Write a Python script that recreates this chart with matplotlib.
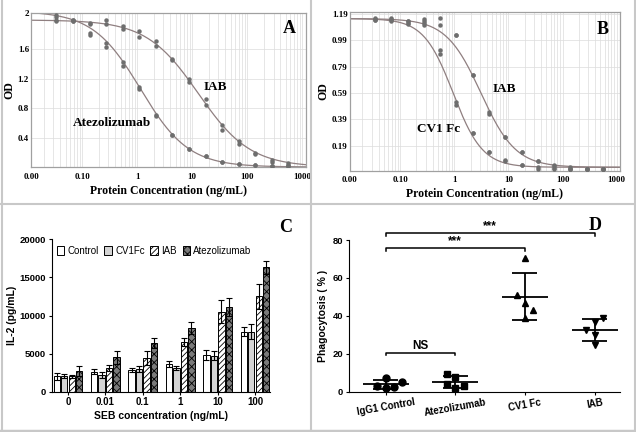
import numpy as np
import matplotlib.pyplot as plt
from matplotlib.lines import Line2D
from matplotlib.ticker import LogLocator, NullFormatter

plt.rcParams['hatch.linewidth'] = 0.6

SERIF = 'Liberation Serif'
SANS = 'Liberation Sans'

# ---------------- dados ----------------
# A / B: concentracoes (ng/mL), duplicatas
conc = [0.034, 0.068, 0.137, 0.273, 0.547, 1.09, 2.19, 4.37, 8.75, 17.5, 35, 70, 140, 280, 560]

a_atezo_r1 = [2.07, 2.00, 1.82, 1.69, 1.43, 1.09, 0.71, 0.44, 0.25, 0.15, 0.07, 0.04, 0.03, 0.01, 0.01]
a_atezo_r2 = [2.04, 1.99, 1.79, 1.63, 1.38, 1.06, 0.69, 0.43, 0.25, 0.15, 0.07, 0.04, 0.03, 0.01, 0.01]
a_iab_r1 = [2.00, 2.00, 1.96, 2.00, 1.92, 1.85, 1.71, 1.47, 1.20, 0.92, 0.57, 0.35, 0.19, 0.10, 0.05]
a_iab_r2 = [1.99, 1.98, 1.94, 1.95, 1.88, 1.77, 1.64, 1.45, 1.16, 0.85, 0.51, 0.31, 0.18, 0.07, 0.03]
# parametros 4PL (top, bottom, ec50, hill)
a_atezo_fit = (2.12, 0.0, 1.15, 1.0)
a_iab_fit = (2.0, 0.0, 12.9, 0.92)

b_cv1_r1 = [1.157, 1.157, 1.14, 1.14, 0.914, 0.523, 0.283, 0.144, 0.081, 0.043, 0.026, 0.02, 0.01, 0.01, 0.01]
b_cv1_r2 = [1.145, 1.14, 1.115, 1.11, 0.889, 0.497, 0.283, 0.144, 0.076, 0.043, 0.011, 0.01, 0.01, 0.01, 0.01]
b_iab_r1 = [1.155, 1.15, 1.14, 1.155, 1.16, 1.03, 0.725, 0.447, 0.258, 0.144, 0.077, 0.043, 0.03, 0.01, 0.01]
b_iab_r2 = [1.145, 1.145, 1.12, 1.12, 1.11, 1.03, 0.725, 0.43, 0.258, 0.144, 0.077, 0.036, 0.01, 0.01, 0.01]
b_cv1_fit = (1.155, 0.026, 0.95, 1.6)
b_iab_fit = (1.155, 0.026, 3.1, 1.35)

# C: IL-2
seb = ['0', '0.01', '0.1', '1', '10', '100']
il2_control = [2000, 2650, 2800, 3600, 4800, 7900]
il2_control_err = [400, 300, 250, 400, 650, 600]
il2_cv1fc = [2100, 2200, 3000, 3100, 4700, 7900]
il2_cv1fc_err = [250, 450, 400, 300, 600, 1000]
il2_iab = [2000, 3100, 4400, 6500, 10500, 12500]
il2_iab_err = [150, 400, 900, 500, 1500, 1600]
il2_atezo = [2700, 4500, 6400, 8400, 11100, 16300]
il2_atezo_err = [700, 800, 600, 800, 1200, 900]

# D: fagocitose (%)
grupos_d = ['IgG1 Control', 'Atezolizumab', 'CV1 Fc', 'IAB']
fago_igg1 = [7.4, 5.3, 3.0, 2.3, 1.8]
fago_atezo = [9.5, 7.8, 4.0, 3.0, 2.0]
fago_cv1 = [70.7, 51.0, 46.6, 43.1, 39.0]
fago_iab = [38.7, 36.9, 32.5, 29.9, 24.6]


def px(x):
    return x / 636


def py(y):
    return 1 - y / 432


def logistic(x, top, bottom, ec50, hill):
    return bottom + (top - bottom) / (1 + (x / ec50) ** hill)


fig = plt.figure(figsize=(6.36, 4.32), dpi=100)

# ---------- A e B: curvas dose-resposta ----------
xmin, xmax = 0.0117, 1150
xs = np.logspace(np.log10(xmin), np.log10(xmax), 400)
curva_cor = '#8f7f80'
ponto_cor = '#6e6e6e'


def painel_curva(ax, series, fits, ymax, yticks, ylabels):
    for r1, r2 in series:
        ax.plot(conc, r1, 'o', color=ponto_cor, ms=3.2, mec='none', zorder=3)
        ax.plot(conc, r2, 'o', color=ponto_cor, ms=3.2, mec='none', zorder=3)
    for p in fits:
        ax.plot(xs, logistic(xs, *p), color=curva_cor, lw=0.9, zorder=2)
    ax.set_xscale('log')
    ax.set_xlim(xmin, xmax)
    ax.set_ylim(0, ymax)
    ax.set_xticks([xmin, 0.1, 1, 10, 100, 1000])
    ax.set_xticklabels(['0.00', '0.10', '1', '10', '100', '1000'],
                       family=SERIF, fontweight='bold', fontsize=6.5)
    ax.xaxis.set_minor_locator(LogLocator(base=10, subs=np.arange(2, 10)))
    ax.xaxis.set_minor_formatter(NullFormatter())
    ax.set_yticks(yticks)
    ax.set_yticklabels(ylabels, family=SERIF, fontweight='bold', fontsize=6.5)
    ax.tick_params(which='both', length=0)
    ax.tick_params(axis='x', pad=4)
    ax.tick_params(axis='y', pad=1.5)
    ax.grid(which='both', axis='x', color='#dcdcdc', lw=0.5)
    ax.grid(which='major', axis='y', color='#dcdcdc', lw=0.5)
    ax.set_axisbelow(True)
    for s in ax.spines.values():
        s.set_color('#a0a0a0')
        s.set_linewidth(0.9)
    ax.set_xlabel('Protein Concentration (ng/mL)', family=SERIF, fontweight='bold',
                  fontsize=8.5, labelpad=3)
    ax.set_ylabel('OD', family=SERIF, fontweight='bold', fontsize=8.5, labelpad=2)


axA = fig.add_axes([px(31), py(167), px(274.6), 154 / 432])
painel_curva(axA, [(a_atezo_r1, a_atezo_r2), (a_iab_r1, a_iab_r2)],
             [a_atezo_fit, a_iab_fit], 2.095,
             [0.4, 0.8, 1.2, 1.6, 2.095], ['0.4', '0.8', '1.2', '1.6', '2'])

axB = fig.add_axes([px(349.7), py(170.7), px(270.3), 158.7 / 432])
painel_curva(axB, [(b_cv1_r1, b_cv1_r2), (b_iab_r1, b_iab_r2)],
             [b_cv1_fit, b_iab_fit], 1.205,
             [0.19, 0.39, 0.59, 0.79, 0.99, 1.19],
             ['0.19', '0.39', '0.59', '0.79', '0.99', '1.19'])

txt_serif = dict(family=SERIF, fontweight='bold', ha='center', va='center')
fig.text(px(289.3), py(28.3), 'A', fontsize=13, **txt_serif)
fig.text(px(215.3), py(87.3), 'IAB', fontsize=9.5, **txt_serif)
fig.text(px(111.7), py(123.3), 'Atezolizumab', fontsize=9.5, **txt_serif)
fig.text(px(602.3), py(29.3), 'B', fontsize=13, **txt_serif)
fig.text(px(504.7), py(89.3), 'IAB', fontsize=9.5, **txt_serif)
fig.text(px(438.7), py(129.3), 'CV1 Fc', fontsize=9.5, **txt_serif)

# ---------- C: barras IL-2 ----------
axC = fig.add_axes([px(51.7), py(391.7), px(218.3), 152.4 / 432])
x = np.arange(len(seb))
larg = 0.17
estilos = [
    ('Control', il2_control, il2_control_err, 'white', None),
    ('CV1Fc', il2_cv1fc, il2_cv1fc_err, '#d4d4d4', None),
    ('IAB', il2_iab, il2_iab_err, 'white', '//////'),
    ('Atezolizumab', il2_atezo, il2_atezo_err, '#7a7a7a', 'xxxx'),
]
for i, (nome, vals, err, cor, hatch) in enumerate(estilos):
    pos = x + (i - 1.5) * 0.2
    axC.bar(pos, vals, width=larg, color=cor, edgecolor='black', lw=0.7,
            hatch=hatch, label=nome, zorder=2)
    axC.errorbar(pos, vals, yerr=err, fmt='none', ecolor='black', elinewidth=0.8,
                 capsize=2, capthick=0.8, zorder=3)
axC.set_xlim(-0.436, 5.40)
axC.set_ylim(0, 20000)
axC.set_xticks(x)
axC.set_xticklabels(seb, family=SANS, fontweight='bold', fontsize=7)
axC.set_yticks([0, 5000, 10000, 15000, 20000])
axC.set_yticklabels(['0', '5000', '10000', '15000', '20000'], family=SANS,
                    fontweight='bold', fontsize=6.8)
axC.tick_params(length=2.5, width=0.8, pad=1.5)
axC.spines['top'].set_visible(False)
axC.spines['right'].set_visible(False)
axC.set_xlabel('SEB concentration (ng/mL)', family=SANS, fontweight='bold',
               fontsize=7.5, labelpad=3)
axC.set_ylabel('IL-2 (pg/mL)', family=SANS, fontweight='bold', fontsize=7.5, labelpad=2)
axC.legend(loc='upper left', bbox_to_anchor=(0.0, 0.99), ncol=4, frameon=False,
           prop={'family': SANS, 'size': 7}, handlelength=0.8, handleheight=1.0,
           handletextpad=0.3, columnspacing=0.6, borderaxespad=0.1)
fig.text(px(286), py(227.7), 'C', fontsize=13, **txt_serif)

# ---------- D: fagocitose ----------
axD = fig.add_axes([px(348.7), py(391.7), px(271), 151.7 / 432])
dados_d = [fago_igg1, fago_atezo, fago_cv1, fago_iab]
marcadores = ['o', 's', '^', 'v']
desloc = [[0, 0.24, -0.12, 0.12, 0], [-0.12, 0, -0.12, 0.12, 0],
          [0, -0.12, 0, 0.12, 0], [0.12, 0, -0.12, 0, 0]]
for i, vals in enumerate(dados_d):
    axD.plot(np.array(desloc[i]) + i, vals, marcadores[i], color='black', ms=5,
             clip_on=False, zorder=3)
    m = np.mean(vals)
    sd = np.std(vals, ddof=1)
    axD.hlines(m, i - 0.33, i + 0.33, color='black', lw=1.3)
    axD.vlines(i, m - sd, m + sd, color='black', lw=1.3)
    axD.hlines([m - sd, m + sd], i - 0.18, i + 0.18, color='black', lw=1.3)

sig = [(0, 3, 83.5, '***'), (0, 2, 75.6, '***'), (0, 1, 20.6, 'NS')]
for x0, x1, yv, rot in sig:
    axD.plot([x0, x0, x1, x1], [yv - 1.3, yv, yv, yv - 1.3], color='black', lw=1.1,
             clip_on=False)
    axD.text((x0 + x1) / 2, yv + 0.5, rot, family=SANS, fontweight='bold',
             fontsize=8.5, ha='center', va='bottom')

axD.set_xlim(-0.53, 3.36)
axD.set_ylim(0, 80)
axD.set_xticks(range(4))
axD.set_xticklabels(grupos_d, family=SANS, fontweight='bold', fontsize=7,
                    rotation=10, ha='center')
axD.set_yticks([0, 20, 40, 60, 80])
axD.set_yticklabels(['0', '20', '40', '60', '80'], family=SANS, fontweight='bold',
                    fontsize=6.8)
axD.tick_params(length=2.5, width=0.8, pad=1.5)
axD.spines['top'].set_visible(False)
axD.spines['right'].set_visible(False)
axD.set_ylabel('Phagocytosis ( % )', family=SANS, fontweight='bold', fontsize=7.5,
               labelpad=3)
fig.text(px(594.7), py(225), 'D', fontsize=13, **txt_serif)

# ---------- molduras ----------
borda = '#c8c8c8'
fig.add_artist(Line2D([px(311), px(311)], [0, 1], color=borda, lw=1.5))
fig.add_artist(Line2D([0, 1], [py(204), py(204)], color=borda, lw=1.5))
fig.add_artist(Line2D([px(1.5), px(1.5)], [0, 1], color=borda, lw=1.5))
fig.add_artist(Line2D([px(634.5), px(634.5)], [0, 1], color=borda, lw=1.5))
fig.add_artist(Line2D([0, 1], [py(430.5), py(430.5)], color=borda, lw=2.5))

fig.savefig('out.png', dpi=100)
